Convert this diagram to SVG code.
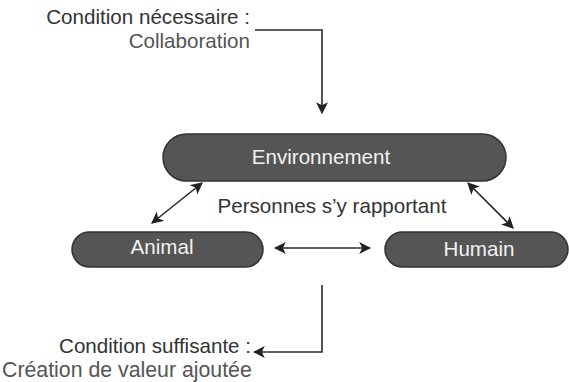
<svg xmlns="http://www.w3.org/2000/svg" width="569" height="382" viewBox="0 0 569 382">
<style>
.t{font-family:"Liberation Sans",Arial,sans-serif;font-size:20.6px;fill:#333}
.g{fill:#555}
.pill{fill:#555;stroke:#333;stroke-width:1.5}
.pt{font-family:"Liberation Sans",Arial,sans-serif;font-size:20.6px;fill:#f2f2f2;text-anchor:middle}
.c{fill:none;stroke:#2a2a2a;stroke-width:1.6}
</style>
<defs>
<marker id="ahl" viewBox="0 0 10 10" refX="9" refY="5" markerWidth="12" markerHeight="12" markerUnits="userSpaceOnUse" orient="auto-start-reverse">
<path d="M0,0 L10,5 L0,10 L2.5,5 Z" fill="#222"/>
</marker>
</defs>
<g id="connectors">
<path class="c" d="M255,30 H322 V113" marker-end="url(#ahl)"/>
<path class="c" d="M322,285 V352 H254" marker-end="url(#ahl)"/>
<line class="c" x1="152" y1="223" x2="202" y2="183" marker-start="url(#ahl)" marker-end="url(#ahl)"/>
<line class="c" x1="468" y1="183" x2="513" y2="228" marker-start="url(#ahl)" marker-end="url(#ahl)"/>
<line class="c" x1="275" y1="248" x2="370" y2="248" marker-start="url(#ahl)" marker-end="url(#ahl)"/>
</g>
<g id="environnement">
<rect class="pill" x="163" y="134" width="343" height="47" rx="23.5"/>
<text class="pt" x="321" y="164">Environnement</text>
</g>
<g id="animal">
<rect class="pill" x="72" y="232" width="191" height="35" rx="17.5"/>
<text class="pt" x="162" y="254">Animal</text>
</g>
<g id="humain">
<rect class="pill" x="385" y="232" width="183" height="35" rx="17.5"/>
<text class="pt" x="479" y="256">Humain</text>
</g>
<g id="labels">
<text class="t" x="250" y="24" text-anchor="end">Condition nécessaire :</text>
<text class="t g" x="250" y="48" text-anchor="end">Collaboration</text>
<text class="t" x="332" y="213" text-anchor="middle">Personnes s’y rapportant</text>
<text class="t" x="251" y="353" text-anchor="end">Condition suffisante :</text>
<text class="t g" x="2" y="377" style="font-size:21.3px">Création de valeur ajoutée</text>
</g>
</svg>
